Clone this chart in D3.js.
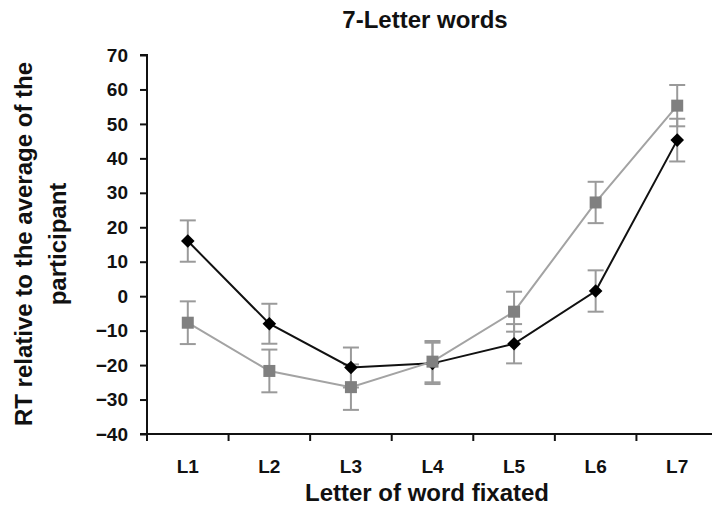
<!DOCTYPE html>
<html>
<head>
<meta charset="utf-8">
<script src="https://cdn.jsdelivr.net/npm/d3@7"></script>
<style>
  html, body { margin: 0; padding: 0; background: #fff; }
  svg { display: block; font-family: "Liberation Sans", Arial, sans-serif; }
</style>
</head>
<body>
<svg id="chart" width="712" height="509"></svg>
<script>
const categories = ["L1", "L2", "L3", "L4", "L5", "L6", "L7"];
const blackValues = [16, -8, -20.7, -19.5, -13.8, 1.5, 45.3];
const blackErrors = [6, 5.8, 5.8, 6, 5.7, 6, 6.2];
const grayValues = [-7.7, -21.7, -26.4, -19, -4.5, 27.2, 55.3];
const grayErrors = [6.2, 6.2, 6.6, 6, 5.8, 6, 6];
const yTicks = [-40, -30, -20, -10, 0, 10, 20, 30, 40, 50, 60, 70];
const title = "7-Letter words";
const xTitle = "Letter of word fixated";
const yTitleLines = ["RT relative to the average of the", "participant"];

(function () {
const svg = d3.select("#chart");
const mLeft = 147, mTop = 55, mBottom = 434, mRight = 718;

const x = d3.scaleBand().domain(categories).range([mLeft, mRight]);
const y = d3.scaleLinear().domain([-40, 70]).range([mBottom, mTop]);

// Title
svg.append("text").attr("x", 425).attr("y", 28).attr("text-anchor", "middle")
  .style("font-size", "24px").style("font-weight", "bold").attr("fill", "#111").text(title);

// Y axis
const yAxis = svg.append("g").attr("transform", `translate(${mLeft},0)`)
  .call(d3.axisLeft(y).tickValues(yTicks).tickSize(7).tickPadding(12).tickFormat(d3.format("d")));
yAxis.select(".domain").attr("stroke", "#111").attr("stroke-width", 2).attr("d", `M-7,${mTop}H0V${mBottom}H-7`);
yAxis.selectAll(".tick line").attr("stroke", "#111").attr("stroke-width", 2);
yAxis.selectAll(".tick text").style("font-size", "19px").style("font-weight", "bold").attr("fill", "#111");

// X axis
const xAxisG = svg.append("g").attr("transform", `translate(0,${mBottom})`);
xAxisG.append("line").attr("x1", mLeft).attr("x2", mRight).attr("y1", 0).attr("y2", 0)
  .attr("stroke", "#111").attr("stroke-width", 2);
const boundaries = categories.map(c => x(c)).concat([x(categories[categories.length - 1]) + x.bandwidth()]);
xAxisG.selectAll("line.tk").data(boundaries).enter().append("line").attr("class", "tk")
  .attr("x1", d => d).attr("x2", d => d).attr("y1", 0).attr("y2", 7)
  .attr("stroke", "#111").attr("stroke-width", 2);
xAxisG.selectAll("text.lbl").data(categories).enter().append("text").attr("class", "lbl")
  .attr("x", d => x(d) + x.bandwidth() / 2).attr("y", 39).attr("text-anchor", "middle")
  .style("font-size", "19px").style("font-weight", "bold").attr("fill", "#111").text(d => d);

// Axis titles
svg.append("text").attr("x", 427).attr("y", 501).attr("text-anchor", "middle")
  .style("font-size", "24px").style("font-weight", "bold").attr("fill", "#111").text(xTitle);
const yt = svg.append("text").attr("transform", "translate(32,244) rotate(-90)")
  .attr("text-anchor", "middle").style("font-size", "24px").style("font-weight", "bold").attr("fill", "#111");
yTitleLines.forEach((t, i) => yt.append("tspan").attr("x", 0).attr("dy", i === 0 ? 0 : 34).text(t));

const cx = c => x(c) + x.bandwidth() / 2;

function errorBars(values, errors) {
  const g = svg.append("g").attr("stroke", "#9a9a9a").attr("stroke-width", 2).attr("fill", "none");
  categories.forEach((c, i) => {
    const yt = y(values[i] + errors[i]), yb = y(values[i] - errors[i]), xc = cx(c);
    g.append("line").attr("x1", xc).attr("x2", xc).attr("y1", yt).attr("y2", yb);
    g.append("line").attr("x1", xc - 8).attr("x2", xc + 8).attr("y1", yt).attr("y2", yt);
    g.append("line").attr("x1", xc - 8).attr("x2", xc + 8).attr("y1", yb).attr("y2", yb);
  });
}
errorBars(blackValues, blackErrors);
errorBars(grayValues, grayErrors);

const line = d3.line().x((d, i) => cx(categories[i])).y(d => y(d));

// Black series
svg.append("path").datum(blackValues).attr("d", line).attr("fill", "none")
  .attr("stroke", "#111").attr("stroke-width", 2);
svg.selectAll("path.diamond").data(blackValues).enter().append("path").attr("class", "diamond")
  .attr("transform", (d, i) => `translate(${cx(categories[i])},${y(d)})`)
  .attr("d", "M0,-6.8L6.8,0L0,6.8L-6.8,0Z").attr("fill", "#000");

// Gray series
svg.append("path").datum(grayValues).attr("d", line).attr("fill", "none")
  .attr("stroke", "#a3a3a3").attr("stroke-width", 2);
svg.selectAll("rect.sq").data(grayValues).enter().append("rect").attr("class", "sq")
  .attr("x", (d, i) => cx(categories[i]) - 6).attr("y", d => y(d) - 6)
  .attr("width", 12).attr("height", 12).attr("fill", "#808080");
})();
</script>
</body>
</html>
